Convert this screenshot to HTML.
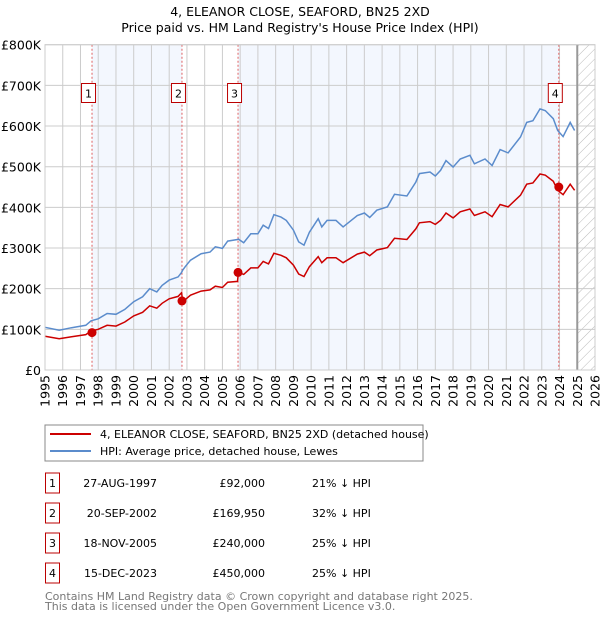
<!DOCTYPE html>
<html><head><meta charset="utf-8"><style>
body{margin:0;background:#fff;width:600px;height:620px;overflow:hidden;font-family:"DejaVu Sans","Liberation Sans",sans-serif;}
svg text{font-family:"DejaVu Sans","Liberation Sans",sans-serif;}
</style></head><body>
<svg id="c" width="600" height="620" xmlns="http://www.w3.org/2000/svg">
<defs><pattern id="hatch" width="7" height="7" patternUnits="userSpaceOnUse" patternTransform="rotate(45)"><line x1="0" y1="0" x2="0" y2="7" stroke="#bbb" stroke-width="1"/></pattern></defs>
<text x="300" y="16" text-anchor="middle" font-size="12.5" fill="#000">4, ELEANOR CLOSE, SEAFORD, BN25 2XD</text>
<text x="300" y="32" text-anchor="middle" font-size="12.5" fill="#000">Price paid vs. HM Land Registry's House Price Index (HPI)</text>
<g id="plot"></g>
<rect x="45" y="425" width="378" height="36" fill="#fff" stroke="#888"/>
<line x1="50" y1="434" x2="91" y2="434" stroke="#cc0000" stroke-width="2"/>
<text x="100" y="438" font-size="11">4, ELEANOR CLOSE, SEAFORD, BN25 2XD (detached house)</text>
<line x1="50" y1="451" x2="91" y2="451" stroke="#5b8ccc" stroke-width="2"/>
<text x="100" y="455" font-size="11">HPI: Average price, detached house, Lewes</text>
<g id="tbl" font-size="11"></g>
<text x="45" y="600" font-size="11" fill="#777">Contains HM Land Registry data © Crown copyright and database right 2025.</text>
<text x="45" y="610" font-size="11" fill="#777">This data is licensed under the Open Government Licence v3.0.</text>
</svg>
<script>
const years=[1995.0,1995.8,1996.5,1997.3,1997.6,1998.0,1998.5,1999.0,1999.5,2000.0,2000.5,2000.9,2001.3,2001.6,2002.0,2002.5,2002.7,2002.75,2002.9,2003.2,2003.8,2004.3,2004.6,2005.0,2005.3,2005.85,2005.9,2006.2,2006.6,2007.0,2007.3,2007.6,2007.9,2008.3,2008.6,2009.0,2009.3,2009.6,2009.9,2010.4,2010.6,2010.9,2011.4,2011.8,2012.6,2013.0,2013.3,2013.7,2014.3,2014.7,2015.4,2015.9,2016.1,2016.7,2017.0,2017.3,2017.6,2018.0,2018.4,2018.95,2019.2,2019.8,2020.2,2020.65,2021.1,2021.8,2022.15,2022.5,2022.9,2023.2,2023.65,2023.9,2024.2,2024.6,2024.85];
const hpi=[105,98,104,110,121,126,139,137,149,168,180,200,192,208,221,229,240,245,254,270,286,290,303,299,317,321,322,313,335,335,356,348,382,376,368,344,315,307,339,372,352,368,368,352,380,386,375,393,401,432,428,462,483,487,477,491,515,499,519,528,507,519,503,542,534,573,609,613,642,638,618,589,574,609,589];
const price=[83,77,82,87,96,100,110,108,118,133,142,158,152,164,175,181,190,172,173,184,194,197,206,203,216,218,240,235,251,251,267,261,287,282,276,258,236,230,254,279,264,276,276,264,285,290,281,295,301,324,321,347,362,365,358,368,386,374,389,396,380,389,377,407,401,430,457,460,482,479,464,442,431,457,442];
const saleYears=[1997.65,2002.72,2005.88,2023.96];
const salePrices=[92,169.95,240,450];
const saleLabels=["1","2","3","4"];
const saleDates=["27-AUG-1997","20-SEP-2002","18-NOV-2005","15-DEC-2023"];
const salePriceText=["£92,000","£169,950","£240,000","£450,000"];
const salePct=["21% ↓ HPI","32% ↓ HPI","25% ↓ HPI","25% ↓ HPI"];
const yTicks=[0,100,200,300,400,500,600,700,800];
const yTickLabels=["£0","£100K","£200K","£300K","£400K","£500K","£600K","£700K","£800K"];
const xTicks=[1995,1996,1997,1998,1999,2000,2001,2002,2003,2004,2005,2006,2007,2008,2009,2010,2011,2012,2013,2014,2015,2016,2017,2018,2019,2020,2021,2022,2023,2024,2025,2026];

const L=45,R=595,T=44.7,B=370;
const X=y=>L+(y-1995)/(2026-1995)*(R-L);
const Y=v=>B-v/800*(B-T);
const NS="http://www.w3.org/2000/svg";
const g=document.getElementById('plot');
function mk(tag,a,parent){const e=document.createElementNS(NS,tag);for(const k in a)e.setAttribute(k,a[k]);(parent||g).appendChild(e);return e;}

let e;
e=mk('rect',{x:X(saleYears[0]),y:T,width:X(saleYears[1])-X(saleYears[0]),height:B-T,fill:'#eef3fd',opacity:0.7});


e=mk('rect',{x:X(saleYears[2]),y:T,width:X(saleYears[3])-X(saleYears[2]),height:B-T,fill:'#eef3fd',opacity:0.7});


e=mk('rect',{x:X(2025),y:T,width:R-X(2025),height:B-T,fill:'url(#hatch)'});


yTicks.forEach((v,i)=>{
  e=mk('line',{x1:L,x2:R,y1:Y(v),y2:Y(v),stroke:'#ccc','stroke-width':1});
  
  
  e=mk('text',{x:L-4,y:Y(v)+5,'text-anchor':'end','font-size':12.5});
  e.textContent=yTickLabels[i];
  
  
});
xTicks.forEach(t=>{
  e=mk('line',{x1:X(t),x2:X(t),y1:T,y2:B,stroke:'#ccc','stroke-width':1});
  
  
  e=mk('text',{x:0,y:0,'text-anchor':'end','font-size':12.5,transform:`translate(${X(t)+4.5},${B+5}) rotate(-90)`});
  e.textContent=t;
  
  
});
e=mk('line',{x1:X(2025),x2:X(2025),y1:T,y2:B,stroke:'#999','stroke-width':2});


saleYears.forEach((s,i)=>{
  e=mk('line',{x1:X(s),x2:X(s),y1:T,y2:B,stroke:'#e06060','stroke-width':1,'stroke-dasharray':'2,2'});
  
  
});
function path(vals){return vals.map((v,i)=>(i?'L':'M')+X(years[i]).toFixed(1)+','+Y(v).toFixed(1)).join('');}
e=mk('path',{d:path(hpi),fill:'none',stroke:'#5b8ccc','stroke-width':1.5});


e=mk('path',{d:path(price),fill:'none',stroke:'#cc0000','stroke-width':1.5});


saleYears.forEach((s,i)=>{
  e=mk('circle',{cx:X(s),cy:Y(salePrices[i]),r:4.5,fill:'#cc0000'});
  
  
  const bx=X(s)-10.5;
  e=mk('rect',{x:bx,y:83.5,width:14,height:19,fill:'#fff',stroke:'#b00','stroke-width':1});
  
  
  e=mk('text',{x:bx+7,y:97.5,'text-anchor':'middle','font-size':11});
  e.textContent=saleLabels[i];
  
  
});
e=mk('rect',{x:L,y:T,width:R-L,height:B-T,fill:'none',stroke:'#ccc'});


const tb=document.getElementById('tbl');
saleLabels.forEach((lab,i)=>{
  const cy=483+i*30;
  e=mk('rect',{x:45.5,y:cy-10,width:14,height:20,fill:'#fff',stroke:'#b00'},tb);
  
  
  e=mk('text',{x:52.5,y:cy+4,'text-anchor':'middle'},tb);e.textContent=lab;
  
  
  e=mk('text',{x:157,y:cy+4,'text-anchor':'end'},tb);e.textContent=saleDates[i];
  
  
  e=mk('text',{x:265,y:cy+4,'text-anchor':'end'},tb);e.textContent=salePriceText[i];
  
  
  e=mk('text',{x:312,y:cy+4},tb);e.textContent=salePct[i];
  
  
});
</script>
</body></html>
